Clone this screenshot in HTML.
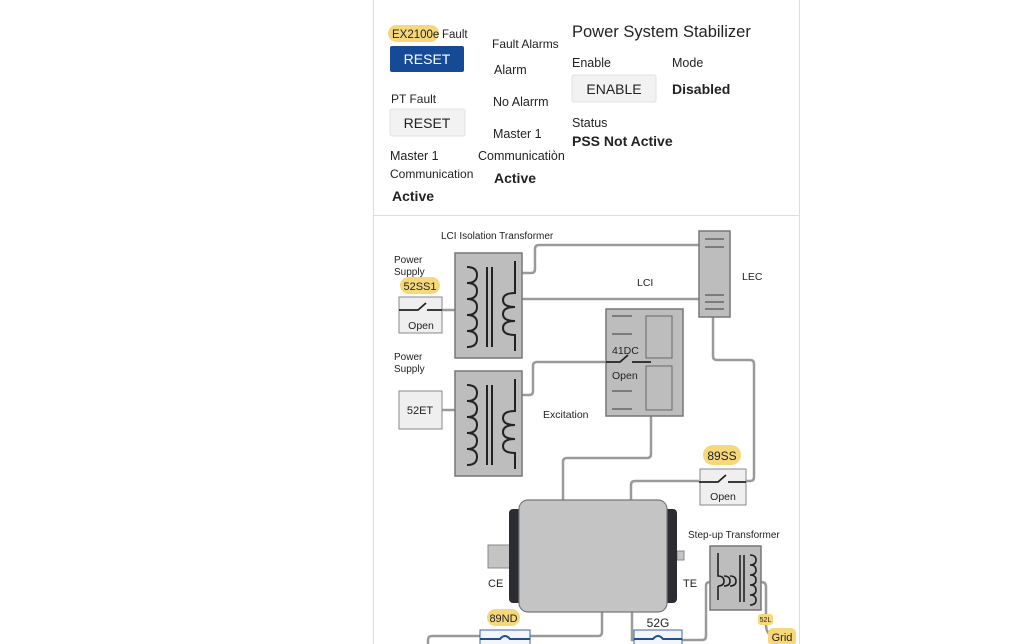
<!DOCTYPE html>
<html><head><meta charset="utf-8"><style>
body{margin:0;background:#fff;width:1024px;height:644px;overflow:hidden;font-family:"Liberation Sans",Arial,sans-serif;}
svg{position:absolute;left:0;top:0}
text{font-family:"Liberation Sans",Arial,sans-serif;fill:#222}
</style></head><body>
<svg width="1024" height="644" viewBox="0 0 1024 644">
<defs>
<g id="tr">
<rect x="0" y="0" width="67" height="105" fill="#bdbdbd" stroke="#777" stroke-width="1.5"/>
<path d="M12 14 q10 0 10 8 q0 8 -10 8 q10 0 10 8 q0 8 -10 8 q10 0 10 8 q0 8 -10 8 q10 0 10 8 q0 8 -10 8 q10 0 10 8 q0 8 -10 8" fill="none" stroke="#222" stroke-width="2"/>
<line x1="32" y1="14" x2="32" y2="94" stroke="#222" stroke-width="2"/>
<line x1="37" y1="14" x2="37" y2="94" stroke="#222" stroke-width="2"/>
<path d="M60 8 V40 q-12 0 -12 7 q0 7 12 7 q-12 0 -12 7 q0 7 12 7 q-12 0 -12 7 q0 7 12 7 V98" fill="none" stroke="#222" stroke-width="2"/>
</g>
</defs>
<!-- panel -->
<line x1="373.5" y1="0" x2="373.5" y2="644" stroke="#ddd"/>
<line x1="799.5" y1="0" x2="799.5" y2="644" stroke="#ddd"/>
<line x1="373" y1="215.5" x2="800" y2="215.5" stroke="#ddd"/>
<!-- top section -->
<rect x="388" y="25" width="51" height="17" rx="8.5" fill="#f6d77a"/>
<text x="392" y="38" font-size="11.5">EX2100e</text>
<text x="442" y="38" font-size="11.5">Fault</text>
<rect x="390" y="46" width="74" height="26" rx="2" fill="#154a96"/>
<text x="427" y="64" font-size="14" fill="#fff" text-anchor="middle" style="fill:#fff">RESET</text>
<text x="391" y="103" font-size="12">PT Fault</text>
<rect x="390" y="109" width="75" height="27" rx="2" fill="#f2f2f2" stroke="#e2e2e2"/>
<text x="427" y="128" font-size="14" text-anchor="middle">RESET</text>
<text x="390" y="160" font-size="12.5">Master 1</text>
<text x="390" y="178" font-size="12">Communication</text>
<text x="392" y="201" font-size="14" font-weight="bold">Active</text>
<text x="492" y="48" font-size="12">Fault Alarms</text>
<text x="494" y="74" font-size="12.5">Alarm</text>
<text x="493" y="106" font-size="12.5">No Alarrm</text>
<text x="493" y="138" font-size="12.5">Master 1</text>
<text x="478" y="160" font-size="12.5">Communicatiòn</text>
<text x="494" y="183" font-size="14" font-weight="bold">Active</text>
<text x="572" y="37" font-size="16.5">Power System Stabilizer</text>
<text x="572" y="67" font-size="12.5">Enable</text>
<text x="672" y="67" font-size="12.5">Mode</text>
<rect x="572" y="75" width="84" height="27" rx="2" fill="#f2f2f2" stroke="#e2e2e2"/>
<text x="614" y="94" font-size="14" text-anchor="middle">ENABLE</text>
<text x="672" y="94" font-size="14" font-weight="bold">Disabled</text>
<text x="572" y="127" font-size="12.5">Status</text>
<text x="572" y="146" font-size="14" font-weight="bold">PSS Not Active</text>
<!-- connectors -->
<g fill="none" stroke="#9a9a9a" stroke-width="2.5">
<path d="M522 273 H531 Q535 273 535 269 V249 Q535 245 539 245 H699"/>
<path d="M522 299 H699"/>
<path d="M442 310 H455"/>
<path d="M442 410 H455"/>
<path d="M522 395 H529 Q533 395 533 391 V366 Q533 362 537 362 H606"/>
<path d="M713 317 V356 Q713 360 717 360 H750 Q754 360 754 364 V477 Q754 481 750 481 H746"/>
<path d="M699 481 H635 Q631 481 631 485 V500"/>
<path d="M651 416 V454 Q651 458 647 458 H567 Q563 458 563 462 V500"/>
<path d="M602 612 V632 Q602 636 598 636 H432 Q428 636 428 640 V644"/>
<path d="M632 612 V640 H634"/>
<path d="M682 640 H702 Q706 640 706 636 V586 Q706 582 710 582"/>
<path d="M761 582 Q766 582 766 587 V625 Q766 633 772 636"/>
</g>
<!-- transformers -->
<use href="#tr" x="455" y="253"/>
<use href="#tr" x="455" y="371"/>
<text x="441" y="239" font-size="10">LCI Isolation Transformer</text>
<text x="394" y="263" font-size="10">Power</text>
<text x="394" y="275" font-size="10">Supply</text>
<text x="394" y="360" font-size="10">Power</text>
<text x="394" y="372" font-size="10">Supply</text>
<text x="637" y="286" font-size="10.5">LCI</text>
<text x="742" y="280" font-size="10.5">LEC</text>
<text x="543" y="418" font-size="10.5">Excitation</text>
<!-- 52SS1 -->
<rect x="400" y="277" width="40" height="17" rx="8.5" fill="#f6d77a"/>
<text x="420" y="290" font-size="11" text-anchor="middle">52SS1</text>
<rect x="399" y="297" width="43" height="36" fill="#efefef" stroke="#888"/>
<path d="M399 310 H418 L426 303 M427 310 H442" stroke="#222" stroke-width="1.8" fill="none"/>
<text x="421" y="329" font-size="10.5" text-anchor="middle">Open</text>
<!-- 52ET -->
<rect x="399" y="391" width="43" height="38" fill="#efefef" stroke="#888"/>
<text x="420" y="414" font-size="11" text-anchor="middle">52ET</text>
<!-- LEC -->
<rect x="699" y="231" width="31" height="86" fill="#bdbdbd" stroke="#777" stroke-width="1.5"/>
<g stroke="#555" stroke-width="1.2"><line x1="705" y1="239" x2="724" y2="239"/><line x1="705" y1="247" x2="724" y2="247"/><line x1="705" y1="295" x2="724" y2="295"/><line x1="705" y1="302" x2="724" y2="302"/><line x1="705" y1="309" x2="724" y2="309"/></g>
<!-- Excitation 41DC -->
<rect x="606" y="309" width="77" height="107" fill="#bdbdbd" stroke="#777" stroke-width="1.5"/>
<rect x="646" y="316" width="26" height="42" fill="#bdbdbd" stroke="#666"/>
<rect x="646" y="366" width="26" height="44" fill="#bdbdbd" stroke="#666"/>
<g stroke="#555" stroke-width="1.2"><line x1="612" y1="316" x2="632" y2="316"/><line x1="612" y1="334" x2="632" y2="334"/><line x1="612" y1="391" x2="632" y2="391"/><line x1="612" y1="409" x2="632" y2="409"/></g>
<path d="M606 362 H620 L628 355 M632 362 H651" stroke="#222" stroke-width="1.8" fill="none"/>
<text x="612" y="354" font-size="10.5">41DC</text>
<text x="612" y="379" font-size="10.5">Open</text>
<!-- 89SS -->
<rect x="703" y="445" width="38" height="20" rx="10" fill="#f6d77a"/>
<text x="722" y="460" font-size="12" text-anchor="middle">89SS</text>
<rect x="700" y="469" width="46" height="36" fill="#efefef" stroke="#888"/>
<path d="M699 482 H718 L726 475 M728 482 H746" stroke="#222" stroke-width="1.8" fill="none"/>
<text x="723" y="500" font-size="10.5" text-anchor="middle">Open</text>
<!-- generator -->
<rect x="488" y="545" width="22" height="23" fill="#c4c4c4" stroke="#888"/>
<rect x="677" y="551" width="7" height="9" fill="#c4c4c4" stroke="#888"/>
<rect x="509" y="509" width="14" height="94" rx="4" fill="#2b2d33"/>
<rect x="663" y="509" width="14" height="94" rx="4" fill="#2b2d33"/>
<rect x="519" y="500" width="148" height="112" rx="9" fill="#c4c4c4" stroke="#777" stroke-width="1.2"/>
<text x="488" y="587" font-size="11">CE</text>
<text x="683" y="587" font-size="11">TE</text>
<!-- step-up -->
<text x="688" y="538" font-size="10">Step-up Transformer</text>
<rect x="710" y="546" width="51" height="64" fill="#bdbdbd" stroke="#777" stroke-width="1.5"/>
<path d="M718 553 V576 q6 0 6 5 q0 5 -6 5 M724 576 q6 0 6 5 q0 5 -6 5 M730 576 q6 0 6 5 q0 5 -6 5 M718 586 V600" fill="none" stroke="#222" stroke-width="1.6"/>
<line x1="740" y1="555" x2="740" y2="602" stroke="#222" stroke-width="1.6"/>
<line x1="744" y1="555" x2="744" y2="602" stroke="#222" stroke-width="1.6"/>
<path d="M750 555 q6 0 6 5 q0 5 -6 5 q6 0 6 5 q0 5 -6 5 q6 0 6 5 q0 5 -6 5 q6 0 6 5 q0 5 -6 5 q6 0 6 5 q0 5 -6 5" fill="none" stroke="#222" stroke-width="1.6"/>
<rect x="758" y="614" width="15" height="11" rx="3" fill="#f6d77a"/>
<text x="765.5" y="622" font-size="7" text-anchor="middle">52L</text>
<rect x="768" y="628" width="28" height="18" rx="5" fill="#f6d77a"/>
<text x="782" y="641" font-size="11" text-anchor="middle">Grid</text>
<!-- bottom -->
<rect x="487" y="609" width="33" height="17" rx="8.5" fill="#f6d77a"/>
<text x="503.5" y="622" font-size="11" text-anchor="middle">89ND</text>
<text x="658" y="627" font-size="12" text-anchor="middle">52G</text>
<rect x="480" y="630" width="50" height="20" fill="#f2f5fa" stroke="#3a63a8"/>
<path d="M480 639 H500 q5 -6 10 0 H530" stroke="#1f4e96" stroke-width="2" fill="none"/>
<rect x="634" y="630" width="48" height="20" fill="#f2f5fa" stroke="#3a63a8"/>
<path d="M634 639 H653 q5 -6 10 0 H682" stroke="#1f4e96" stroke-width="2" fill="none"/>
</svg>
</body></html>
